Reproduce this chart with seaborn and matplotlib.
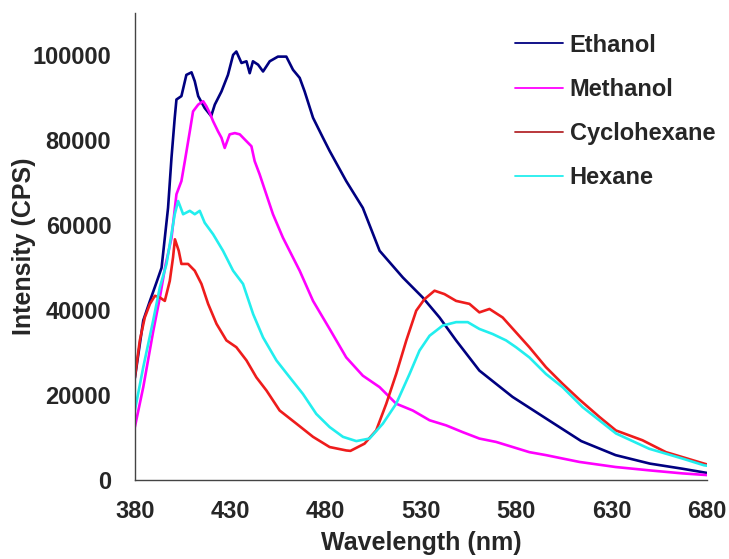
import matplotlib
matplotlib.use("Agg")
import matplotlib.pyplot as plt
import seaborn as sns
import pandas as pd
from matplotlib.lines import Line2D

# Emission spectra (wavelength in nm, intensity in counts per second)
ethanol_wl = [380, 384.4, 387.9, 391.3, 394, 397.4, 399.2, 400.9, 401.8, 404.4, 407, 409.7,
              411.4, 413.2, 416.6, 420, 421.9, 425.4, 428.8, 431.5, 433.2, 435.9, 438.5,
              440.2, 441.9, 444.6, 447.2, 450.7, 455, 459.4, 462.9, 466.4, 469, 473.4,
              478.6, 482.1, 490.8, 499.5, 508.3, 520.5, 530.9, 539.7, 548.4, 560.6, 578,
              597, 614, 632, 650, 667, 680]
ethanol_int = [24000, 37600, 42200, 46500, 50000, 64100, 75900, 85300, 89600, 90400, 95400, 96000,
               93900, 90400, 87600, 85700, 88400, 91500, 95400, 100100, 100900, 98200, 98600,
               95800, 98600, 97800, 96200, 98600, 99700, 99700, 96600, 94700, 91500, 85300,
               80600, 77500, 70400, 64100, 54000, 47700, 43000, 38300, 32900, 25800, 19600,
               14100, 9200, 5900, 3900, 2700, 1700]

methanol_wl = [380, 384.4, 389.6, 393.1, 396, 399.2, 401.8, 404.4, 406.2, 408.8, 410.5, 413.2,
               415.8, 417.5, 419.3, 421, 423.6, 425.4, 427.1, 429.7, 432.4, 435, 437.6, 441.1,
               442.8, 445.4, 448.9, 452.4, 457.6, 462.9, 466.4, 473.4, 482.1, 490.8, 499.5,
               508.3, 517, 525.7, 534.5, 543.2, 551.9, 560.6, 569.4, 578.1, 586.8, 595.5,
               604.2, 613, 632, 650, 667, 680]
methanol_int = [12500, 21900, 35000, 43000, 50500, 57000, 67300, 70400, 75100, 82100, 86800, 88400,
                89200, 88000, 86400, 84500, 82100, 80600, 78200, 81400, 81700, 81400, 80200, 78600,
                75100, 72000, 67300, 62600, 57100, 52400, 49300, 42200, 35600, 28900, 24600,
                21900, 18000, 16400, 14100, 12900, 11300, 9800, 9000, 7800, 6600, 5900,
                5100, 4300, 3100, 2300, 1600, 1200]

cyclohexane_wl = [380, 382.6, 385.2, 387.9, 390.5, 393.1, 395.7, 398.3, 400, 401, 403, 404.4,
                  407.9, 411.4, 414.9, 418.4, 422.8, 428, 433.2, 438.5, 443.7, 449, 455.9, 464.7,
                  473.4, 482.1, 490.8, 493, 500.4, 506.5, 511.8, 517, 522.3, 527.5, 531.8, 537.1,
                  542.3, 548.4, 555.4, 560.6, 565.9, 572.8, 579.8, 586.8, 595.5, 604.2, 613,
                  623.5, 632.2, 646.1, 658.4, 678.4, 680]
cyclohexane_int = [24200, 32900, 38300, 41500, 43400, 43000, 42200, 46900, 52400, 56700, 54000, 50900,
                   50900, 49300, 46200, 41500, 36800, 32900, 31300, 28200, 24200, 21100, 16400, 13300,
                   10200, 7800, 7000, 6900, 8600, 11700, 18000, 25000, 32900, 39900, 42600, 44600,
                   43800, 42200, 41500, 39500, 40300, 38300, 34800, 31300, 26600, 22700, 19000,
                   14900, 11700, 9400, 6600, 3900, 3700]

hexane_wl = [380, 384.4, 389.6, 393.1, 396.6, 400.9, 402.7, 405.3, 408.8, 411.4, 414, 416.6,
             421, 426.2, 431.5, 436.7, 442, 447.2, 454.2, 461.2, 468.1, 475.1, 482.1, 489.1,
             496.1, 503, 510, 517, 524, 529.2, 534.5, 541.4, 548.4, 554.5, 560.6, 567.6,
             574.6, 579.8, 586.8, 595.5, 604.2, 614.7, 632.2, 649.6, 667, 678.4, 680]
hexane_int = [16400, 26600, 37600, 45400, 50900, 62600, 65700, 62600, 63400, 62600, 63400, 60600,
              57900, 54000, 49300, 46200, 39100, 33600, 28200, 24200, 20300, 15600, 12500, 10200,
              9200, 9800, 13300, 18000, 25000, 30500, 34000, 36400, 37200, 37200, 35600, 34400,
              32900, 31300, 28900, 25000, 21900, 17200, 11000, 7400, 5100, 3500, 3400]

solvents = ["Ethanol", "Methanol", "Cyclohexane", "Hexane"]
colors = {"Ethanol": "#000080", "Methanol": "#FF00FF",
          "Cyclohexane": "#EE1C1C", "Hexane": "#22EEEE"}
legend_colors = {"Ethanol": "#000080", "Methanol": "#FF00FF",
                 "Cyclohexane": "#B4282C", "Hexane": "#22EEEE"}

frames = []
for name, wl, inten in [("Ethanol", ethanol_wl, ethanol_int),
                        ("Methanol", methanol_wl, methanol_int),
                        ("Cyclohexane", cyclohexane_wl, cyclohexane_int),
                        ("Hexane", hexane_wl, hexane_int)]:
    frames.append(pd.DataFrame({"wl": wl, "intensity": inten, "solvent": name}))
df = pd.concat(frames, ignore_index=True)

sns.set_style("white")
plt.rcParams["font.family"] = ["Liberation Sans", "DejaVu Sans"]
plt.rcParams["font.weight"] = "bold"

fig = plt.figure(figsize=(7.29, 5.59), dpi=100)
ax = fig.add_axes([0.185, 0.141, 0.785, 0.836])

sns.lineplot(data=df, x="wl", y="intensity", hue="solvent", hue_order=solvents,
             palette=colors, estimator=None, linewidth=1.9, legend=False, ax=ax)

ax.set_xlim(380, 680)
ax.set_ylim(0, 110000)
ax.set_xticks(range(380, 681, 50))
ax.set_yticks(range(0, 100001, 20000))
ax.tick_params(axis="both", direction="out", length=6, width=1, color="#444444",
               labelsize=17)
ax.tick_params(axis="x", pad=8)
ax.tick_params(axis="y", pad=11)
for lbl in ax.get_xticklabels() + ax.get_yticklabels():
    lbl.set_fontweight("bold")
for side in ["top", "right"]:
    ax.spines[side].set_visible(False)
for side in ["left", "bottom"]:
    ax.spines[side].set_color("#444444")
    ax.spines[side].set_linewidth(1)

ax.set_xlabel("Wavelength (nm)", fontsize=18, fontweight="bold", labelpad=6)
ax.set_ylabel("Intensity (CPS)", fontsize=18, fontweight="bold")
ax.yaxis.set_label_coords(-0.172, 0.5)

handles = [Line2D([], [], color=legend_colors[s], linewidth=1.3) for s in solvents]
fig.legend(handles, solvents, loc="upper left", bbox_to_anchor=(0.707, 0.94),
           frameon=False, prop={"size": 17, "weight": "bold"}, borderaxespad=0,
           handlelength=2.0, handletextpad=0.3, labelspacing=0.9, borderpad=0)

fig.savefig("out.png", dpi=100)
